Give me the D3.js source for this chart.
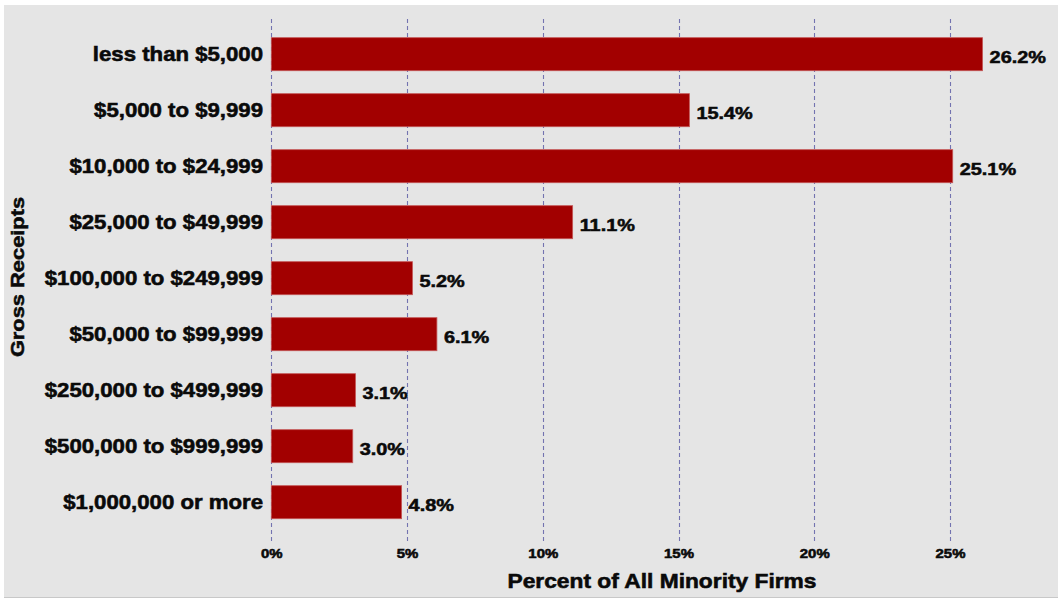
<!DOCTYPE html>
<html>
<head>
<meta charset="utf-8">
<script src="https://cdn.jsdelivr.net/npm/d3@7"></script>
<style>
  html, body { margin: 0; padding: 0; background: #ffffff; }
  svg { display: block; }
  text { font-family: "Liberation Sans", Arial, sans-serif; font-weight: bold; fill: #0a0a0a; stroke: #0a0a0a; stroke-width: 0.55px; }
</style>
</head>
<body>
<svg id="chart" width="1061" height="600"></svg>
<script>
const categories = [
  "less than $5,000",
  "$5,000 to $9,999",
  "$10,000 to $24,999",
  "$25,000 to $49,999",
  "$100,000 to $249,999",
  "$50,000 to $99,999",
  "$250,000 to $499,999",
  "$500,000 to $999,999",
  "$1,000,000 or more"
];
const percentValues = [26.2, 15.4, 25.1, 11.1, 5.2, 6.1, 3.1, 3.0, 4.8];
const xTickValues = [0, 5, 10, 15, 20, 25];
const xAxisTitle = "Percent of All Minority Firms";
const yAxisTitle = "Gross Receipts";

const SX = 1.15; // horizontal stretch of the reference's type
const svg = d3.select("#chart");

// panel background
svg.append("rect").attr("x", 4).attr("y", 5).attr("width", 1054).attr("height", 592)
  .attr("fill", "#e5e5e5");
svg.append("line").attr("x1", 4).attr("x2", 1058).attr("y1", 597.5).attr("y2", 597.5)
  .attr("stroke", "#c8c8c8").attr("stroke-width", 1);

const x = d3.scaleLinear().domain([0, 25]).range([271.3, 950]);
const y = d3.scaleBand().domain(categories).range([26.2, 530.2]).paddingInner(0.41).paddingOuter(0.205);

// gridlines
svg.append("g").selectAll("line").data(xTickValues).join("line")
  .attr("x1", d => Math.round(x(d)) + 0.5).attr("x2", d => Math.round(x(d)) + 0.5)
  .attr("y1", 19).attr("y2", 542)
  .attr("stroke", "#7373b0").attr("stroke-width", 1.1).attr("stroke-dasharray", "4,3");

// bars
svg.append("g").selectAll("rect").data(percentValues).join("rect")
  .attr("x", x(0))
  .attr("y", (d, i) => y(categories[i]))
  .attr("width", d => x(d) - x(0))
  .attr("height", y.bandwidth())
  .attr("fill", "#a20000")
  .attr("stroke", "#c45656").attr("stroke-width", 0.8);

function stretchedText(g, tx, ty, str, size, anchor, rot) {
  return g.append("text")
    .attr("transform", `translate(${tx},${ty})` + (rot ? ` rotate(${rot})` : "") + ` scale(${SX},1)`)
    .attr("text-anchor", anchor)
    .attr("font-size", size)
    .text(str);
}

// category labels
const catG = svg.append("g");
categories.forEach(c => {
  stretchedText(catG, 263, y(c) + y.bandwidth() / 2 + 7, c, 19.3, "end");
});

// value labels
const valG = svg.append("g");
percentValues.forEach((v, i) => {
  stretchedText(valG, x(v) + 7, y(categories[i]) + y.bandwidth() / 2 + 9, v.toFixed(1) + "%", 17.3, "start");
});

// x tick labels via axis
const xAxis = d3.axisBottom(x).tickValues(xTickValues).tickFormat(d => d + "%").tickSize(0).tickPadding(0);
const axG = svg.append("g").attr("transform", "translate(0,546)").call(xAxis);
axG.select(".domain").remove();
axG.selectAll(".tick text")
  .attr("font-size", 13)
  .attr("font-family", "Liberation Sans, Arial, sans-serif")
  .attr("font-weight", "bold")
  .attr("fill", "#0a0a0a")
  .attr("stroke", "#0a0a0a").attr("stroke-width", 0.4)
  .attr("dy", 0)
  .attr("y", 12)
  .attr("transform", `scale(${SX},1)`)
  .attr("x", 0);

// axis titles
stretchedText(svg, 662, 588, xAxisTitle, 19.8, "middle");
stretchedText(svg, 24, 277, yAxisTitle, 19, "middle", -90);
</script>
</body>
</html>
